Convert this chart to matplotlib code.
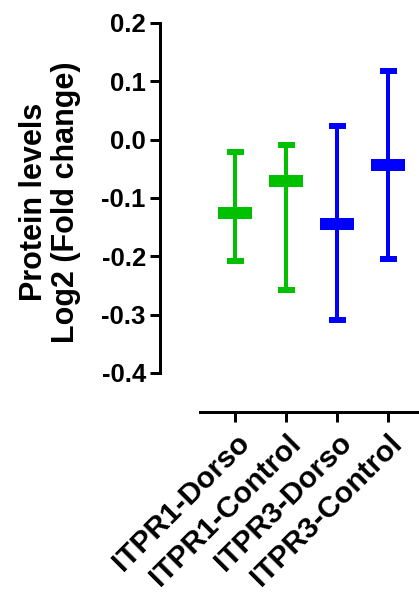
import matplotlib.pyplot as plt

plt.rcParams['font.family'] = ['Liberation Sans', 'DejaVu Sans']
plt.rcParams['font.weight'] = 'bold'

# values (log2 fold change)
groups = ['ITPR1-Dorso', 'ITPR1-Control', 'ITPR3-Dorso', 'ITPR3-Control']
means = [-0.125, -0.071, -0.144, -0.044]
upper = [-0.022, -0.010, 0.023, 0.117]
lower = [-0.208, -0.257, -0.309, -0.205]
colors = ['#00c000', '#00c000', '#0000ff', '#0000ff']
yticks = [-0.4, -0.3, -0.2, -0.1, 0.0, 0.1, 0.2]

fig = plt.figure(figsize=(4.19, 5.99), dpi=100)
ax = fig.add_axes([160 / 419, 1 - 412 / 599, 1 - 160 / 419, (412 - 23) / 599])

px = 72 / 100  # points per pixel
pos = list(range(1, len(groups) + 1))
cap_w = 8.5 / 51   # half widths in category units
mean_w = 17 / 51
ax.vlines(pos, lower, upper, colors=colors, linewidth=4 * px, capstyle='butt')
for x, m, hi, lo, c in zip(pos, means, upper, lower, colors):
    ax.hlines([hi, lo], x - cap_w, x + cap_w, colors=c, linewidth=6 * px,
              capstyle='butt')
    ax.hlines(m, x - mean_w, x + mean_w, colors=c, linewidth=12 * px,
              capstyle='butt')

ax.set_ylim(-0.4 - 39 / 583, 0.2)
ax.set_xlim((160 - 235) / 51 + 1, (419 - 235) / 51 + 1)
ax.set_yticks(yticks)
ax.set_yticklabels(['%.1f' % t for t in yticks], fontsize=18.5)
ax.set_xticks(pos)
ax.set_xticklabels(groups, rotation=45, ha='right', rotation_mode='anchor',
                   fontsize=21.5)

for s in ['top', 'right']:
    ax.spines[s].set_visible(False)
ax.spines['left'].set_bounds(-0.4, 0.2)
ax.spines['bottom'].set_bounds((200 - 235) / 51 + 1, (419 - 235) / 51 + 1)
for s in ['left', 'bottom']:
    ax.spines[s].set_linewidth(3 * px)
ax.tick_params(width=3 * px, length=10 * px)
ax.tick_params(axis='y', pad=3)
ax.tick_params(axis='x', pad=5)

fig.text(50 / 419, 1 - 202 / 599, 'Protein levels\nLog2 (Fold change)',
         rotation=90, ha='center', va='center', multialignment='center',
         fontsize=22, fontweight='bold', linespacing=1.12)

fig.savefig('out.png', dpi=100)
